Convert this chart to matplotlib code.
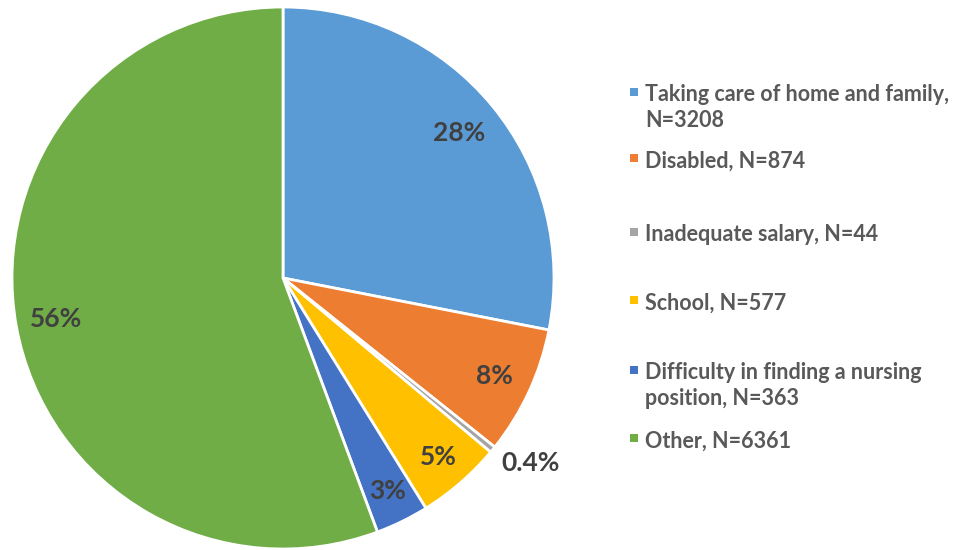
import numpy as np
import matplotlib
matplotlib.use("Agg")
import matplotlib.pyplot as plt
from matplotlib.patches import Rectangle

categories = ["Taking care of home and family,\nN=3208", "Disabled, N=874",
              "Inadequate salary, N=44", "School, N=577",
              "Difficulty in finding a nursing\nposition, N=363", "Other, N=6361"]
counts = [3208, 874, 44, 577, 363, 6361]
pct_labels = ["28%", "8%", "0.4%", "5%", "3%", "56%"]
colors = ["#5B9BD5", "#ED7D31", "#A5A5A5", "#FFC000", "#4472C4", "#70AD47"]

plt.rcParams['font.family'] = ['Lato', 'DejaVu Sans']

fig = plt.figure(figsize=(9.59, 5.5), dpi=100)
W, H = 959, 550
cx, cy, R = 283, 278, 271
ax = fig.add_axes([(cx - R) / W, (H - cy - R) / H, 2 * R / W, 2 * R / H])
wedges, _ = ax.pie(counts, colors=colors, startangle=90, counterclock=False,
                   radius=1.0, wedgeprops=dict(edgecolor="white", linewidth=2))
ax.set_xlim(-1, 1)
ax.set_ylim(-1, 1)
ax.set_aspect("equal")
ax.axis("off")

dists = [0.84, 0.86, 1.14, 0.875, 0.875, 0.85]
ang_off = [0, 0, 2.5, 0, 0, 0]
for w, lab, d, off in zip(wedges, pct_labels, dists, ang_off):
    ang = np.deg2rad((w.theta1 + w.theta2) / 2 + off)
    ax.text(d * np.cos(ang), d * np.sin(ang), lab, ha="center", va="center",
            fontsize=19, fontweight="bold", color="#404040")

# legend
leg_y = [92, 158, 232, 300, 370, 438]
for lab, col, y in zip(categories, colors, leg_y):
    fig.patches.append(Rectangle(((630) / W, (H - y - 4) / H), 8 / W, 8 / H,
                                 transform=fig.transFigure, facecolor=col,
                                 edgecolor="none"))
    fig.text(645 / W, (H - y) / H + 0.014, lab, ha="left", va="top",
             fontsize=15.5, fontweight="bold", color="#595959", linespacing=1.3)

fig.savefig("out.png", dpi=100)
